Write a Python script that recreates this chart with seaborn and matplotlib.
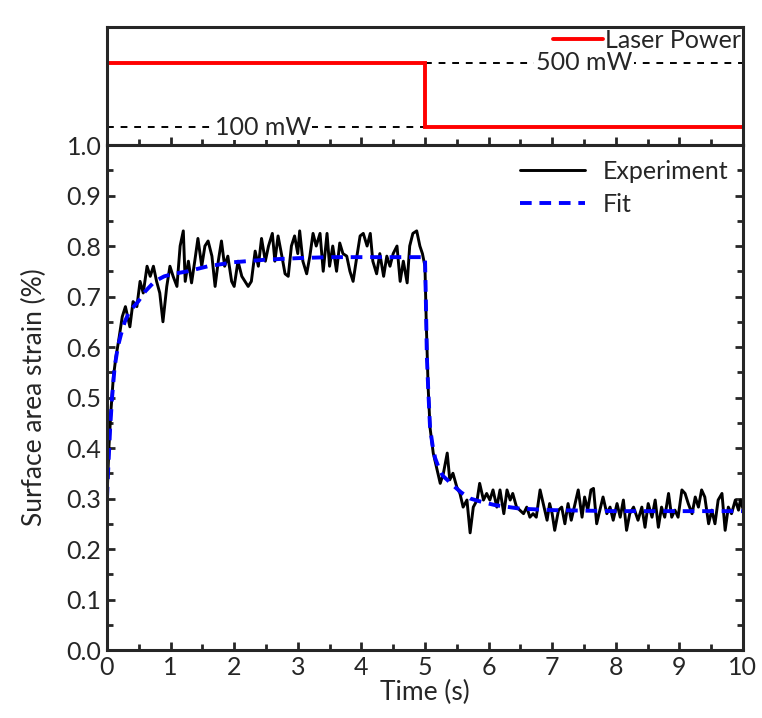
import numpy as np
import pandas as pd
import matplotlib
matplotlib.use("Agg")
import matplotlib.pyplot as plt
from matplotlib.ticker import MultipleLocator
import seaborn as sns

# Laser power step (top panel)
power_t = [0, 0, 5, 5, 10]
power_mw = [100, 500, 500, 100, 100]

exp_t = [0.00, 0.03, 0.06, 0.10, 0.14, 0.18, 0.24, 0.29, 0.36, 0.41, 0.47, 0.52, 0.57,
         0.63, 0.68, 0.73, 0.78, 0.83, 0.88, 0.94, 0.99, 1.04, 1.10, 1.15, 1.20, 1.23,
         1.28, 1.33, 1.38, 1.43, 1.49, 1.54, 1.59, 1.65, 1.70, 1.75, 1.80, 1.85, 1.90,
         1.96, 2.00, 2.06, 2.12, 2.17, 2.22, 2.27, 2.33, 2.38, 2.43, 2.49, 2.54, 2.60,
         2.64, 2.69, 2.75, 2.80, 2.85, 2.90, 2.95, 3.00, 3.03, 3.08, 3.14, 3.19, 3.24,
         3.29, 3.35, 3.40, 3.46, 3.50, 3.55, 3.61, 3.66, 3.71, 3.77, 3.82, 3.87, 3.93,
         3.98, 4.03, 4.09, 4.14, 4.18, 4.24, 4.29, 4.35, 4.40, 4.45, 4.50, 4.56, 4.61,
         4.66, 4.72, 4.76, 4.81, 4.87, 4.92, 4.96, 5.00, 5.02, 5.05, 5.08, 5.13, 5.18,
         5.24, 5.29, 5.35, 5.39, 5.44, 5.50, 5.55, 5.60, 5.66, 5.71, 5.76, 5.82, 5.86,
         5.92, 5.97, 6.02, 6.07, 6.13, 6.18, 6.24, 6.29, 6.34, 6.38, 6.44, 6.49, 6.55,
         6.60, 6.65, 6.70, 6.75, 6.81, 6.86, 6.92, 6.96, 7.00, 7.04, 7.10, 7.15, 7.20,
         7.25, 7.30, 7.36, 7.41, 7.47, 7.51, 7.56, 7.61, 7.65, 7.70, 7.75, 7.80, 7.86,
         7.91, 7.96, 8.02, 8.07, 8.12, 8.17, 8.22, 8.28, 8.35, 8.41, 8.46, 8.51, 8.57,
         8.62, 8.67, 8.72, 8.77, 8.83, 8.88, 8.93, 8.98, 9.04, 9.09, 9.14, 9.20, 9.25,
         9.30, 9.35, 9.40, 9.46, 9.51, 9.56, 9.61, 9.67, 9.72, 9.77, 9.82, 9.88, 9.93,
         9.96, 10.00]
exp_v = [0.30, 0.40, 0.47, 0.54, 0.58, 0.61, 0.66, 0.68, 0.64, 0.69, 0.68, 0.73, 0.707,
         0.76, 0.74, 0.76, 0.73, 0.707, 0.65, 0.72, 0.76, 0.74, 0.72, 0.80, 0.83, 0.73,
         0.77, 0.727, 0.77, 0.815, 0.76, 0.80, 0.81, 0.78, 0.72, 0.77, 0.81, 0.76, 0.78,
         0.73, 0.72, 0.77, 0.74, 0.73, 0.72, 0.73, 0.79, 0.76, 0.815, 0.77, 0.80, 0.825,
         0.77, 0.82, 0.78, 0.745, 0.74, 0.80, 0.82, 0.785, 0.83, 0.77, 0.745, 0.78, 0.825,
         0.80, 0.825, 0.75, 0.825, 0.76, 0.80, 0.75, 0.806, 0.785, 0.78, 0.75, 0.73, 0.78,
         0.82, 0.825, 0.80, 0.825, 0.77, 0.745, 0.785, 0.74, 0.78, 0.76, 0.785, 0.80, 0.73,
         0.77, 0.727, 0.80, 0.825, 0.83, 0.80, 0.785, 0.76, 0.65, 0.52, 0.44, 0.39, 0.363,
         0.33, 0.35, 0.39, 0.337, 0.35, 0.323, 0.31, 0.283, 0.297, 0.232, 0.283, 0.297, 0.33,
         0.297, 0.31, 0.297, 0.317, 0.283, 0.317, 0.27, 0.317, 0.297, 0.31, 0.283, 0.277, 0.27,
         0.283, 0.263, 0.27, 0.263, 0.317, 0.29, 0.257, 0.29, 0.27, 0.237, 0.277, 0.283, 0.25,
         0.29, 0.257, 0.29, 0.317, 0.263, 0.303, 0.277, 0.317, 0.32, 0.25, 0.277, 0.303, 0.27,
         0.283, 0.257, 0.29, 0.263, 0.297, 0.237, 0.27, 0.283, 0.257, 0.283, 0.243, 0.29, 0.263,
         0.297, 0.243, 0.283, 0.263, 0.31, 0.263, 0.277, 0.263, 0.317, 0.31, 0.29, 0.27, 0.303,
         0.283, 0.317, 0.303, 0.25, 0.277, 0.25, 0.297, 0.31, 0.237, 0.283, 0.27, 0.297, 0.277,
         0.297, 0.28]

# Fitted curve
fit_t = [0.00, 0.02, 0.05, 0.08, 0.12, 0.17, 0.22, 0.28, 0.35, 0.42, 0.49, 0.60, 0.75,
         0.90, 1.05, 1.27, 1.59, 2.0, 2.5, 3.0, 3.5, 4.0, 4.5, 5.00,
         5.01, 5.02, 5.03, 5.05, 5.08, 5.12, 5.16, 5.22, 5.28, 5.35, 5.45, 5.57, 5.71,
         5.90, 6.10, 6.49, 7.0, 7.5, 8.0, 9.0, 10.0]
fit_v = [0.30, 0.36, 0.44, 0.50, 0.56, 0.60, 0.625, 0.65, 0.67, 0.68, 0.69, 0.71, 0.73,
         0.74, 0.745, 0.75, 0.76, 0.768, 0.773, 0.776, 0.778, 0.778, 0.778, 0.778,
         0.72, 0.65, 0.58, 0.52, 0.44, 0.405, 0.38, 0.36, 0.345, 0.337, 0.325, 0.312, 0.30,
         0.293, 0.287, 0.28, 0.277, 0.276, 0.275, 0.275, 0.275]

sns.set_style("ticks")
plt.rcParams["font.family"] = ["Lato", "DejaVu Sans"]
plt.rcParams["font.size"] = 18

fig = plt.figure(figsize=(7.62, 7.18), dpi=100)
ax_top = fig.add_axes([0.1404, 0.798, 0.8346, 0.1646])
ax = fig.add_axes([0.1404, 0.0947, 0.8346, 0.7033])

# top panel
pw = pd.DataFrame({"t": power_t, "p": power_mw})
ax_top.plot([0, 5], [100, 100], ls=(0, (3.5, 3.5)), color="black", lw=1.4)
ax_top.plot([5, 10], [500, 500], ls=(0, (3.5, 3.5)), color="black", lw=1.4)
ax_top.plot(pw["t"], pw["p"], color="red", lw=2.8, label="Laser Power", solid_joinstyle="miter")
ax_top.text(2.45, 100, "100 mW", ha="center", va="center", fontsize=18,
            bbox=dict(facecolor="white", edgecolor="none", pad=1))
ax_top.text(7.5, 500, "500 mW", ha="center", va="center", fontsize=18,
            bbox=dict(facecolor="white", edgecolor="none", pad=1))
ax_top.set_xlim(0, 10)
ax_top.set_ylim(-12.5, 725)
ax_top.set_yticks([])
ax_top.xaxis.set_major_locator(MultipleLocator(1))
ax_top.xaxis.set_minor_locator(MultipleLocator(0.5))
ax_top.tick_params(axis="x", which="both", direction="in", labelbottom=False, width=2)
ax_top.tick_params(axis="x", which="major", length=6)
ax_top.tick_params(axis="x", which="minor", length=4)
ax_top.legend(loc="upper right", frameon=False, handlelength=2.0, handletextpad=0.1,
              borderaxespad=0.02, borderpad=0.05, fontsize=18)
for s in ax_top.spines.values():
    s.set_linewidth(2.2)

# bottom panel
exp_df = pd.DataFrame({"t": exp_t, "v": exp_v})
fit_df = pd.DataFrame({"t": fit_t, "v": fit_v})
sns.lineplot(data=exp_df, x="t", y="v", ax=ax, color="black", lw=2.1, label="Experiment",
             sort=False)
sns.lineplot(data=fit_df, x="t", y="v", ax=ax, color="blue", lw=2.8, label="Fit",
             sort=False, linestyle=(0, (3, 2)))
ax.set_xlim(0, 10)
ax.set_ylim(0, 1.0)
ax.xaxis.set_major_locator(MultipleLocator(1))
ax.xaxis.set_minor_locator(MultipleLocator(0.5))
ax.yaxis.set_minor_locator(MultipleLocator(0.05))
ax.set_yticks(np.arange(0, 1.01, 0.1))
ax.set_yticklabels([f"{v:.1f}" for v in np.arange(0, 1.01, 0.1)])
ax.tick_params(which="both", direction="in", left=True, right=True, bottom=True, top=False,
               width=2, labelsize=18, pad=4)
ax.tick_params(which="major", length=6)
ax.tick_params(which="minor", length=4)
ax.set_xlabel("Time (s)", fontsize=19, labelpad=1)
ax.set_ylabel("Surface area strain (%)", fontsize=19, labelpad=14)
ax.legend(loc="upper right", frameon=False, handlelength=2.6, handletextpad=0.7,
          borderaxespad=0.2, fontsize=18, labelspacing=0.4)
for s in ax.spines.values():
    s.set_linewidth(2.2)

fig.savefig("out.png", dpi=100)
